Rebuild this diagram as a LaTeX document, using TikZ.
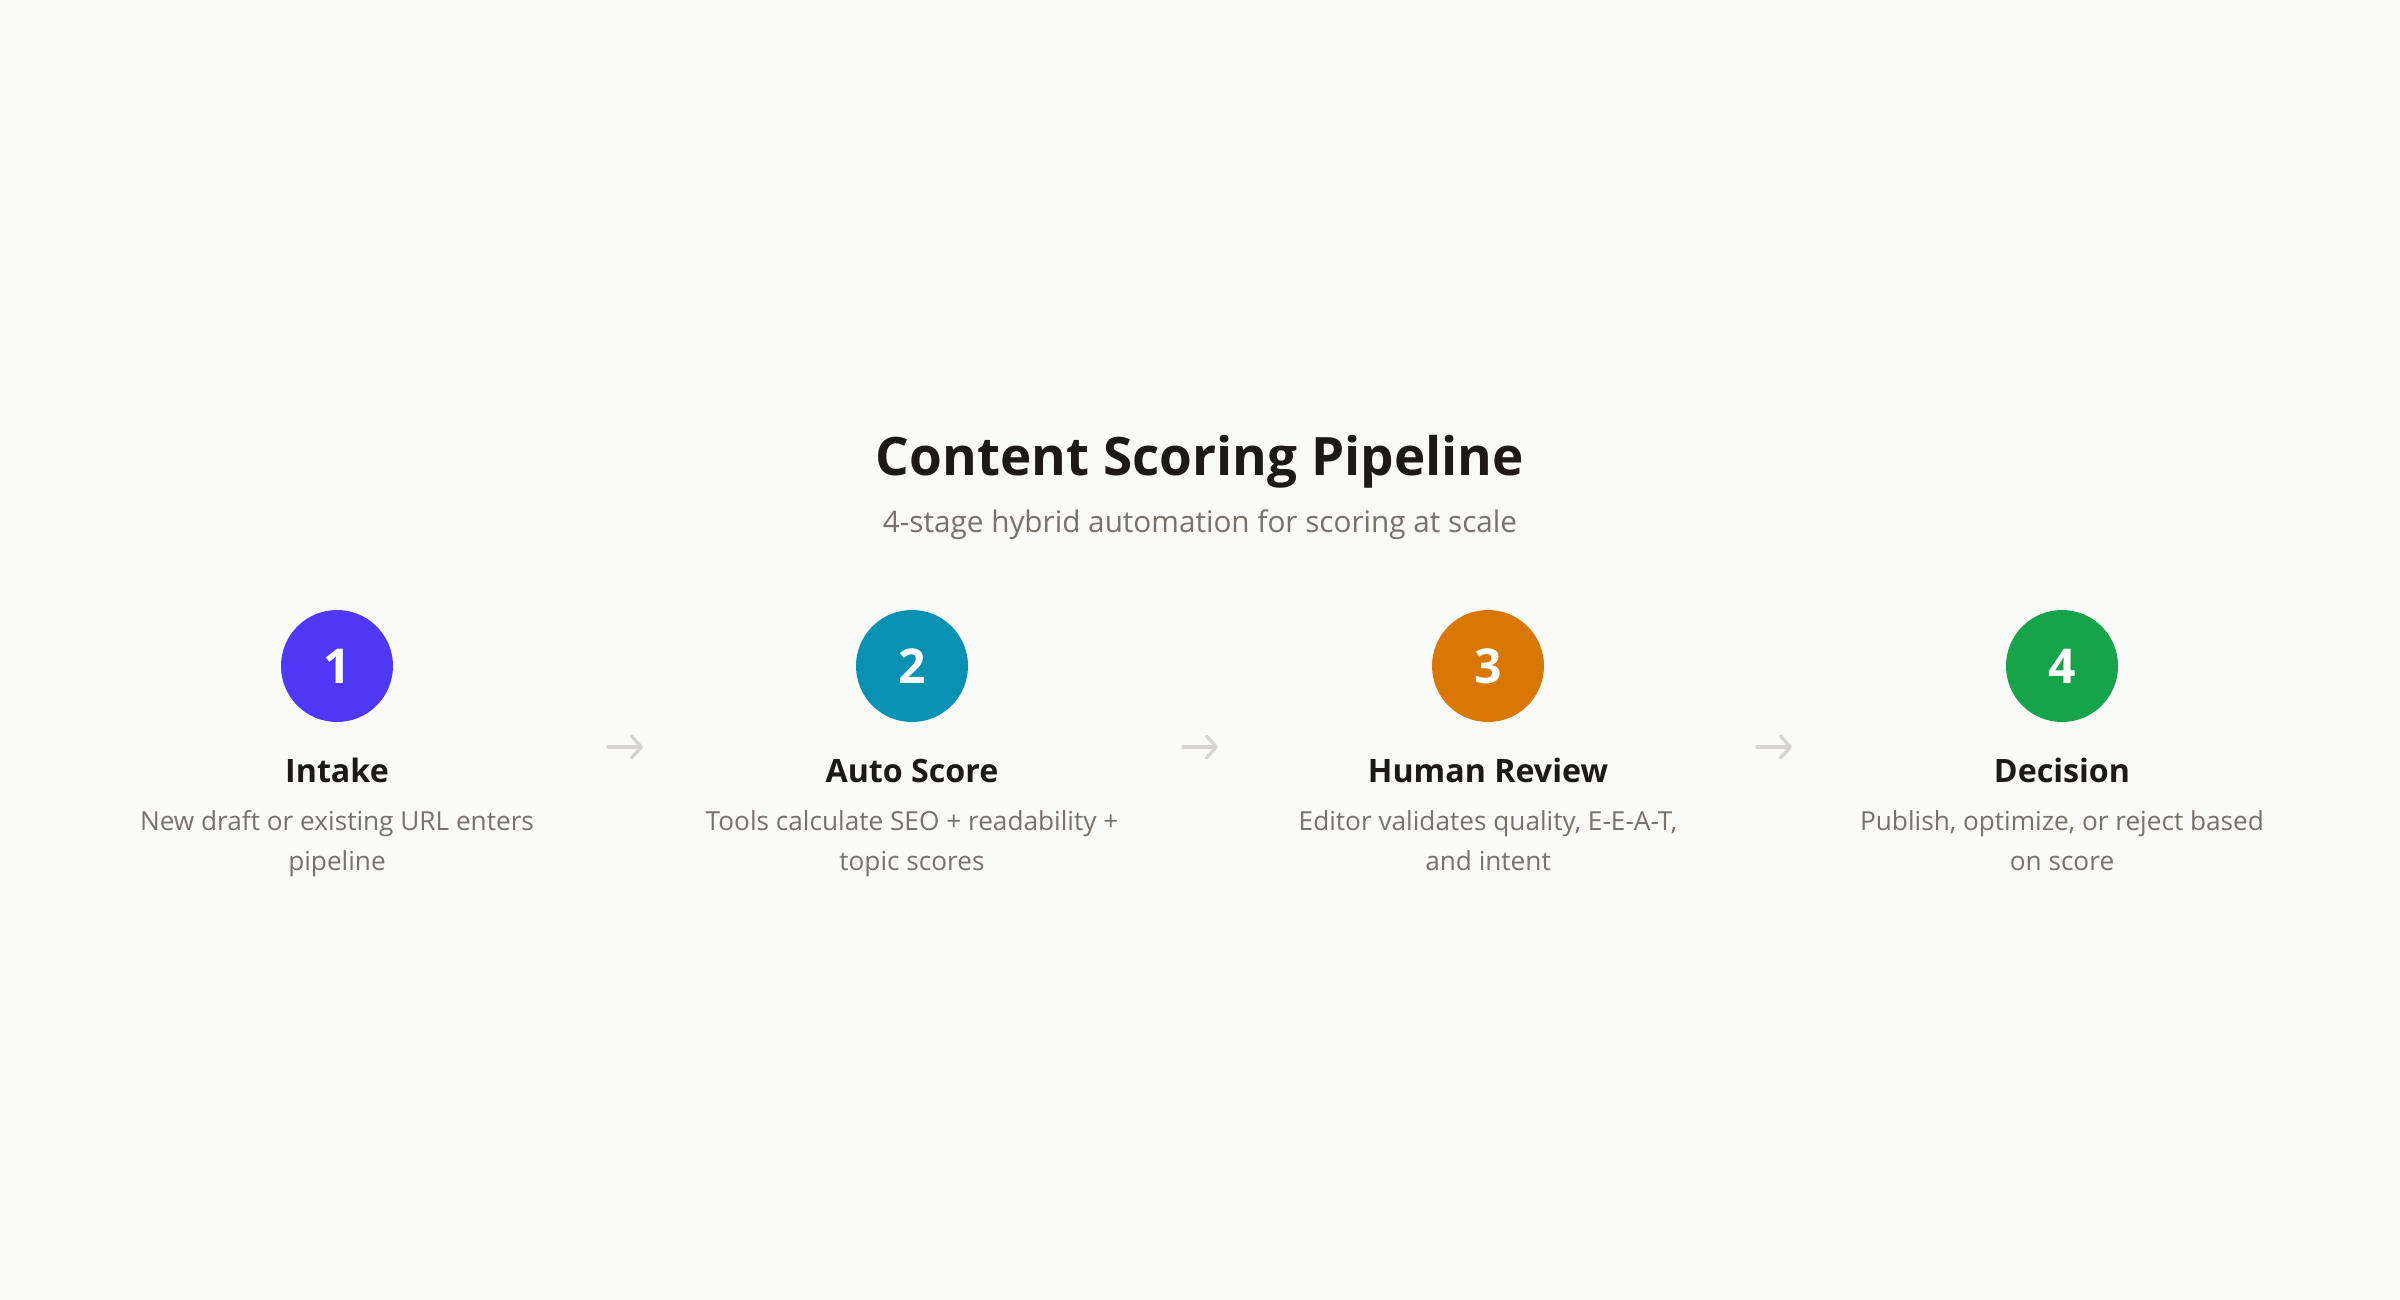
\documentclass[tikz,border=0pt]{standalone}
\usepackage{fontspec}
\setmainfont{Open Sans}
\usetikzlibrary{arrows.meta}
\definecolor{bgcol}{HTML}{FAFAF9}
\definecolor{inkcol}{HTML}{1C1917}
\definecolor{greycol}{HTML}{78716C}
\definecolor{linkcol}{HTML}{D6D3D1}
\definecolor{intakecol}{HTML}{4F39F6}
\definecolor{autocol}{HTML}{0891B2}
\definecolor{reviewcol}{HTML}{D97706}
\definecolor{decisioncol}{HTML}{16A34A}
\begin{document}
\begin{tikzpicture}[x=0.5pt,y=-0.5pt,
	stepnum/.style={circle,minimum size=56pt,inner sep=0pt,text=white,font=\fontsize{24}{24}\selectfont\bfseries},
	steptitle/.style={anchor=base,text=inkcol,font=\fontsize{16.1}{20}\selectfont\bfseries},
	stepdesc/.style={anchor=base,align=center,text=greycol,font=\fontsize{13.1}{20}\selectfont},
	link/.style={draw=linkcol,line width=1.6pt,line cap=round,-{Straight Barb[length=5pt,width=11pt,round]}}]
	\fill[bgcol] (0,0) rectangle (2400,1300);
	\node[anchor=base,text=inkcol,font=\fontsize{26.5}{32}\selectfont\bfseries] (title) at (1200,475) {Content Scoring Pipeline};
	\node[anchor=base,text=greycol,font=\fontsize{14.85}{18}\selectfont] (subtitle) at (1200,532) {4-stage hybrid automation for scoring at scale};
	\node[stepnum,fill=intakecol] (n1) at (337,666) {1};
	\node[stepnum,fill=autocol] (n2) at (912,666) {2};
	\node[stepnum,fill=reviewcol] (n3) at (1488,666) {3};
	\node[stepnum,fill=decisioncol] (n4) at (2062,666) {4};
	\node[steptitle] (t1) at (337,782) {Intake};
	\node[steptitle] (t2) at (912,782) {Auto Score};
	\node[steptitle] (t3) at (1488,782) {Human Review};
	\node[steptitle] (t4) at (2062,782) {Decision};
	% base of a two-line node is its last line
	\node[stepdesc] (d1) at (337,870) {New draft or existing URL enters\\pipeline};
	\node[stepdesc] (d2) at (912,870) {Tools calculate SEO + readability +\\topic scores};
	\node[stepdesc] (d3) at (1488,870) {Editor validates quality, E-E-A-T,\\and intent};
	\node[stepdesc] (d4) at (2062,870) {Publish, optimize, or reject based\\on score};
	\coordinate (a1) at (608,747);
	\coordinate (b1) at (643,747);
	\coordinate (a2) at (1183,747);
	\coordinate (b2) at (1218,747);
	\coordinate (a3) at (1757,747);
	\coordinate (b3) at (1792,747);
	\draw[link] (a1) -- (b1);
	\draw[link] (a2) -- (b2);
	\draw[link] (a3) -- (b3);
\end{tikzpicture}
\end{document}
